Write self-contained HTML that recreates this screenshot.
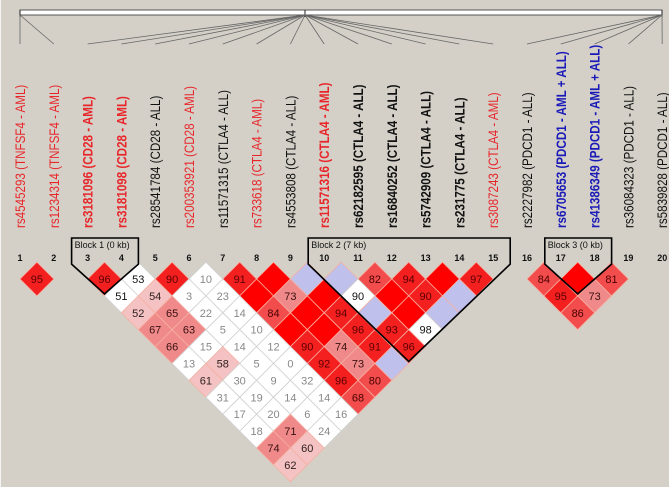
<!DOCTYPE html>
<html><head><meta charset="utf-8">
<style>
html,body{margin:0;padding:0;background:#d4d0c8;}
svg{display:block;font-family:"Liberation Sans",Arial,sans-serif;}
</style></head>
<body>
<svg id="chart" width="669" height="487" viewBox="0 0 669 487" xmlns="http://www.w3.org/2000/svg">
<rect x="0" y="0" width="669" height="487" fill="#d4d0c8"/>
<line x1="0.5" y1="0" x2="0.5" y2="487" stroke="#f4f4f4"/>
<g id="ruler"></g>
<g id="labels"></g>
<g id="cells"></g>
<g id="blocks"></g>
</svg>
<script>
const snpNames = ["rs4545293 (TNFSF4 - AML)","rs1234314 (TNFSF4 - AML)","rs3181096 (CD28 - AML)","rs3181098 (CD28 - AML)","rs28541784 (CD28 - ALL)","rs200353921 (CD28 - AML)","rs11571315 (CTLA4 - ALL)","rs733618 (CTLA4 - AML)","rs4553808 (CTLA4 - ALL)","rs11571316 (CTLA4 - AML)","rs62182595 (CTLA4 - ALL)","rs16840252 (CTLA4 - ALL)","rs5742909 (CTLA4 - ALL)","rs231775 (CTLA4 - ALL)","rs3087243 (CTLA4 - AML)","rs2227982 (PDCD1 - ALL)","rs6705653 (PDCD1 - AML + ALL)","rs41386349 (PDCD1 - AML + ALL)","rs36084323 (PDCD1 - ALL)","rs5839828 (PDCD1 - ALL)"];
const snpColor = ["r","r","r","r","k","r","k","r","k","r","k","k","k","k","r","k","b","b","k","k"];
const snpBold = [0,0,1,1,0,0,0,0,0,1,1,1,1,1,0,0,1,1,0,0];
const rulerAnchor = [0,0,1,1,1,1,1,1,1,1,1,1,1,1,1,2,2,2,2,2];
const cellPairs = [[1,2],[16,17],[17,18],[18,19],[16,18],[17,19],[16,19],
[3,4],[4,5],[5,6],[6,7],[7,8],[8,9],[9,10],[10,11],[11,12],[12,13],[13,14],[14,15],
[3,5],[4,6],[5,7],[6,8],[7,9],[8,10],[9,11],[10,12],[11,13],[12,14],[13,15],
[3,6],[4,7],[5,8],[6,9],[7,10],[8,11],[9,12],[10,13],[11,14],[12,15],
[3,7],[4,8],[5,9],[6,10],[7,11],[8,12],[9,13],[10,14],[11,15],
[3,8],[4,9],[5,10],[6,11],[7,12],[8,13],[9,14],[10,15],
[3,9],[4,10],[5,11],[6,12],[7,13],[8,14],[9,15],
[3,10],[4,11],[5,12],[6,13],[7,14],[8,15],
[3,11],[4,12],[5,13],[6,14],[7,15],
[3,12],[4,13],[5,14],[6,15],
[3,13],[4,14],[5,15],
[3,14],[4,15],
[3,15]];
const cellValues = [95,84,null,81,95,73,86,
96,53,90,10,91,null,null,null,82,94,null,97,
51,54,3,23,null,73,null,90,null,90,null,
52,65,22,14,84,null,94,null,null,null,
67,63,5,10,null,null,96,93,98,
66,15,14,12,90,74,91,96,
13,58,5,0,92,73,null,
61,30,9,32,96,80,
31,19,14,14,68,
17,20,6,16,
18,71,24,
74,60,
62];
const cellShades = ["r","m","R","m","r","p","m",
"r","W","r","W","r","R","B","B","m","r","R","r",
"W","l","W","W","R","p","R","W","R","r","B",
"l","p","W","W","m","R","r","B","R","B",
"p","p","W","W","R","R","r","r","W",
"p","W","W","W","r","p","r","r",
"W","l","W","W","r","p","B",
"l","W","W","W","r","m",
"W","W","W","W","m",
"W","W","W","W",
"W","p","W",
"p","l",
"l"];
const blockNames = ["Block 1 (0 kb)","Block 2 (7 kb)","Block 3 (0 kb)"];
const blockStart = [3,10,17];
const blockEnd = [4,15,18];

const NS="http://www.w3.org/2000/svg";
const X0=20, DX=33.8, ROW0=279, DY=16.9;
function sx(i){return X0+(i-1)*DX;}
function cx(i,j){return (sx(i)+sx(j))/2;}
function cy(i,j){return ROW0+(j-i-1)*DY;}
function mk(tag,attrs,parent){const e=document.createElementNS(NS,tag);for(const k in attrs)e.setAttribute(k,attrs[k]);parent.appendChild(e);return e;}
const shadeFill={R:"#ff0000",r:"#f42020",m:"#f24c4c",p:"#f08a8a",l:"#f4c2c2",W:"#ffffff",B:"#c0c0ec"};
const txtCol={r:"#5a0000",R:"#5a0000",m:"#4a0000",p:"#3a1010",l:"#302020"};
const labCol={r:"#e8262a",k:"#111111",b:"#1a1ab8"};

const ruler=document.getElementById('ruler');
const bar=mk('rect',{x:20,y:10,width:642,height:5,fill:"#ffffff",stroke:"#555",'stroke-width':1},ruler);


const anchors=[20,305,662];
anchors.forEach(a=>{const t=mk('line',{x1:a,y1:10,x2:a,y2:17,stroke:"#222"},ruler);

});
snpNames.forEach((n,k)=>{
 const l=mk('line',{x1:anchors[rulerAnchor[k]],y1:15,x2:sx(k+1),y2:44,stroke:"#666",'stroke-width':0.8},ruler);
 
 
});
const labels=document.getElementById('labels');
snpNames.forEach((n,k)=>{
 const x=sx(k+1)+5;
 const t=mk('text',{x:0,y:0,transform:`translate(${x} 228) rotate(-90) scale(0.83 1)`,'font-size':14,fill:labCol[snpColor[k]],'font-weight':snpBold[k]?'bold':'normal'},labels);
 t.textContent=n;
 
 
 const num=mk('text',{x:sx(k+1),y:261,'font-size':9,'font-weight':'bold','text-anchor':'middle',fill:"#111"},labels);
 num.textContent=String(k+1);
 
 
});
const cells=document.getElementById('cells');
cellPairs.forEach((p,k)=>{
 const x=cx(p[0],p[1]), y=cy(p[0],p[1]), h=DX/2;
 const s=cellShades[k];
 const d=mk('polygon',{points:`${x},${y-h} ${x+h},${y} ${x},${y+h} ${x-h},${y}`,fill:shadeFill[s],stroke:s==="W"?"#d0d0d0":"#f6b0a0",'stroke-width':0.8},cells);
 
 
 if(cellValues[k]!==null){
  const c = s==="W" ? (cellValues[k]>=50?"#111":"#888") : txtCol[s];
  const t=mk('text',{x:x,y:y+4,'font-size':11,'text-anchor':'middle',fill:c},cells);
  t.textContent=String(cellValues[k]);
  
  
 }
});
const blocks=document.getElementById('blocks');
blockNames.forEach((n,k)=>{
 const a=blockStart[k], b=blockEnd[k];
 const left=sx(a)-16, right=sx(b)+17, top=238;
 const vx=cx(a,b), vy=cy(a,b)+DY-2;
 const topRow=ROW0-DY+2;
 const path=mk('path',{d:`M${left},${top} L${right},${top} L${right},${topRow} L${vx},${vy} L${left},${topRow} Z`,fill:"none",stroke:"#000",'stroke-width':1.6},blocks);
 
 
 const t=mk('text',{x:left+3,y:top+10,'font-size':9,fill:"#111"},blocks);
 t.textContent=n;
 
 
});
</script>
</body></html>
